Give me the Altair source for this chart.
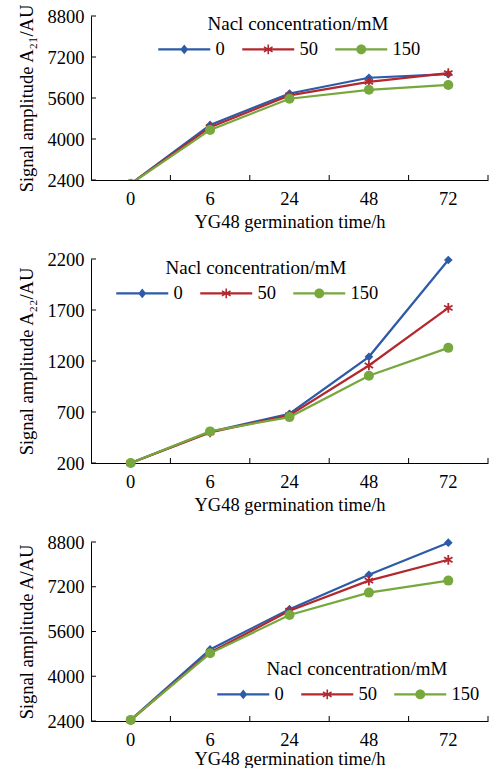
import math
import altair as alt
import pandas as pd

# ---------------- data ----------------
times = ["0", "6", "24", "48", "72"]
series = ["0", "50", "150"]
colors = ["#2C5BA8", "#B3282E", "#76A83E"]

a21_s0 = [2250, 4550, 5775, 6390, 6530]
a21_s50 = [2250, 4460, 5700, 6230, 6570]
a21_s150 = [2250, 4355, 5570, 5920, 6110]

a22_s0 = [200, 505, 683, 1241, 2190]
a22_s50 = [200, 500, 668, 1156, 1721]
a22_s150 = [200, 510, 650, 1055, 1329]

a_s0 = [2440, 4960, 6400, 7630, 8775]
a_s50 = [2430, 4850, 6340, 7420, 8165]
a_s150 = [2440, 4820, 6190, 6990, 7420]

y_ticks_a21 = [2400, 4000, 5600, 7200, 8800]
y_ticks_a22 = [200, 700, 1200, 1700, 2200]
y_ticks_a = [2400, 4000, 5600, 7200, 8800]

x_title = "YG48 germination time/h"
legend_title = "Nacl concentration/mM"
y_title_a21 = "Signal amplitude A\u2082\u2081/AU"
y_title_a22 = "Signal amplitude A\u2082\u2082/AU"
y_title_a = "Signal amplitude A/AU"

FONT = "Liberation Serif"
W = 397
TICK = 5


# ---------------- marker paths ----------------
def poly(pts):
    n = len(pts)
    area = sum(pts[i][0] * pts[(i + 1) % n][1] - pts[(i + 1) % n][0] * pts[i][1] for i in range(n))
    if area < 0:
        pts = pts[::-1]
    return "M" + "L".join(f"{x:.4f},{y:.4f}" for x, y in pts) + "Z"


def seg(x1, y1, x2, y2, hw):
    dx, dy = x2 - x1, y2 - y1
    L = math.hypot(dx, dy)
    nx, ny = -dy / L * hw, dx / L * hw
    return poly([(x1 + nx, y1 + ny), (x2 + nx, y2 + ny), (x2 - nx, y2 - ny), (x1 - nx, y1 - ny)])


# legend symbol: r = sqrt(256)/2 = 8 px per unit
LEG_SIZE = 256
LINE = seg(-3.25, 0, 3.25, 0, 0.14)
DIAMOND = poly([(0, -0.6), (0.5, 0), (0, 0.6), (-0.5, 0)])
ASTER = (seg(0, -0.62, 0, 0.62, 0.1) + seg(-0.54, -0.31, 0.54, 0.31, 0.1)
         + seg(-0.54, 0.31, 0.54, -0.31, 0.1))
CIRCLE = poly([(0.62 * math.cos(2 * math.pi * k / 28), 0.62 * math.sin(2 * math.pi * k / 28)) for k in range(28)])
legend_shapes = [LINE + DIAMOND, LINE + ASTER, LINE + CIRCLE]

ASTER_STROKE = "M0,-1L0,1M-0.866,-0.5L0.866,0.5M-0.866,0.5L0.866,-0.5"
plot_markers = [("diamond", True, 75), (ASTER_STROKE, False, 95), ("circle", True, 100)]


def panel(values, ytitle, yticks, height, lx, ly, clip, xtitle_pad):
    rows = [{"time": t, "series": s, "value": v}
            for s, vals in zip(series, values) for t, v in zip(times, vals)]
    base = alt.Chart(pd.DataFrame(rows))
    xscale = alt.Scale(type="band", domain=times, paddingInner=0, paddingOuter=0)
    yscale = alt.Scale(domain=[yticks[0], yticks[-1]], nice=False, zero=False)

    def X(axis):
        return alt.X("time:N", scale=xscale, sort=times, bandPosition=0.5, axis=axis)

    def Y(axis):
        return alt.Y("value:Q", scale=yscale, axis=axis)

    bottom_axis = alt.Axis(orient="bottom", title=x_title, ticks=False, labelAngle=0,
                           labelPadding=9, titlePadding=xtitle_pad, grid=False)
    left_axis = alt.Axis(orient="left", title=ytitle, values=yticks, ticks=False, grid=False,
                         labelPadding=7, titlePadding=11, format="d")

    layers = []
    for i, s in enumerate(series):
        sub = base.transform_filter(alt.datum.series == s)
        ax_x = bottom_axis if i == 0 else None
        ax_y = left_axis if i == 0 else None
        line = sub.mark_line(color=colors[i], strokeWidth=2.2, clip=clip).encode(
            x=X(ax_x), y=Y(ax_y))
        shp, filled, size = plot_markers[i]
        if filled:
            pts = sub.mark_point(shape=shp, filled=True, size=size, color=colors[i], opacity=1,
                                 strokeWidth=0, clip=clip)
        else:
            pts = sub.mark_point(shape=shp, filled=False, size=size, color=colors[i], opacity=1,
                                 strokeWidth=1.8, clip=clip)
        pts = pts.encode(x=X(None), y=Y(None))
        layers += [line, pts]

    # inward tick marks (y ticks on the left, x ticks at band boundaries)
    ytick_rules = alt.Chart(pd.DataFrame({"value": yticks})).mark_rule(
        color="black", strokeWidth=1).encode(
        y=Y(None), x=alt.value(0), x2=alt.value(TICK))
    xtick_rules = alt.Chart(pd.DataFrame({"time": times})).mark_rule(
        color="black", strokeWidth=1).encode(
        x=alt.X("time:N", scale=xscale, sort=times, bandPosition=1, axis=None),
        y=alt.value(height), y2=alt.value(height - TICK))
    layers += [ytick_rules, xtick_rules]

    legend = alt.Legend(orient="none", legendX=lx, legendY=ly, direction="horizontal",
                        title=legend_title, titleAnchor="middle", titleFontSize=19, titleFont=FONT,
                        titleFontWeight="normal", titlePadding=6, titleLimit=500,
                        labelFont=FONT, labelFontSize=18.5,
                        labelOffset=22, columnPadding=17, symbolSize=LEG_SIZE, symbolStrokeWidth=0,
                        symbolOpacity=1, labelColor="black", titleColor="black")
    leg = base.transform_filter("false").mark_point(filled=True, opacity=1, size=LEG_SIZE).encode(
        color=alt.Color("series:N", scale=alt.Scale(domain=series, range=colors), legend=legend),
        shape=alt.Shape("series:N", scale=alt.Scale(domain=series, range=legend_shapes), legend=legend),
    )
    layers.append(leg)
    return alt.layer(*layers).resolve_axis(x="independent", y="independent").properties(
        width=W, height=height)


p1 = panel([a21_s0, a21_s50, a21_s150], y_title_a21, y_ticks_a21, 164, 84, -1, True, 5)
p2 = panel([a22_s0, a22_s50, a22_s150], y_title_a22, y_ticks_a22, 204, 42, 0, False, 5)
p3 = panel([a_s0, a_s50, a_s150], y_title_a, y_ticks_a, 179, 143, 118, False, 1)

chart = alt.vconcat(p1, p2, p3, spacing=19).resolve_scale(
    color="independent", shape="independent", y="independent"
).configure(
    font=FONT, background="white",
    padding={"left": 17, "top": 3, "right": 0, "bottom": 0},
).configure_view(stroke=None).configure_axis(
    labelFont=FONT, titleFont=FONT, labelFontSize=18.5, titleFontSize=18.5,
    titleFontWeight="normal", domainColor="black", tickColor="black",
    labelColor="black", titleColor="black", domainWidth=1, tickWidth=1,
).configure_legend(
    titleFont=FONT, labelFont=FONT, titleFontSize=19, labelFontSize=18.5, titleLimit=500
)

chart.save("out.html", embed_options={"renderer": "svg", "actions": False})
